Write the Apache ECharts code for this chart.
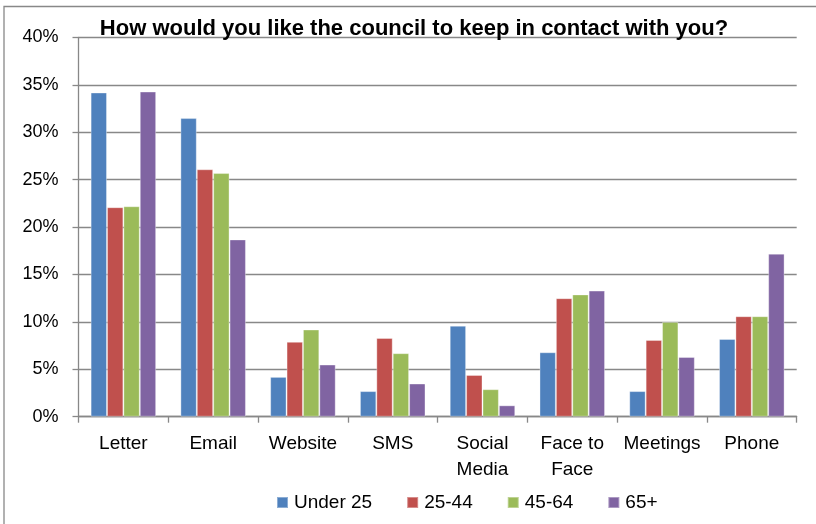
<!DOCTYPE html>
<html>
<head>
<meta charset="utf-8">
<style>
  html, body { margin: 0; padding: 0; background: #fff; }
  #chart { width: 816px; height: 524px; }
</style>
<script src="https://cdn.jsdelivr.net/npm/echarts@6/dist/echarts.min.js"></script>
</head>
<body>
<div id="chart"></div>
<script>
// Preferred contact channels by age group (percent of respondents)
const categories = ['Letter', 'Email', 'Website', 'SMS', 'Social\nMedia', 'Face to\nFace', 'Meetings', 'Phone'];
const seriesNames = ['Under 25', '25-44', '45-64', '65+'];
const under25 = [34.2, 31.5, 4.2, 2.7, 9.6, 6.8, 2.7, 8.2];
const age25to44 = [22.1, 26.1, 7.9, 8.3, 4.4, 12.5, 8.1, 10.6];
const age45to64 = [22.2, 25.7, 9.2, 6.7, 2.9, 12.9, 10.0, 10.6];
const age65plus = [34.3, 18.7, 5.5, 3.5, 1.2, 13.3, 6.3, 17.2];
const yTicks = { min: 0, max: 40, interval: 5 };

const colors = ['#4F81BD', '#C0504D', '#9BBB59', '#8064A2'];
const seriesData = [under25, age25to44, age45to64, age65plus];
const FONT = 'Liberation Sans';
const GRID_GRAY = '#888888';

const chart = echarts.init(document.getElementById('chart'), null, { renderer: 'canvas' });

chart.setOption({
  animation: false,
  backgroundColor: '#ffffff',
  color: colors,
  title: {
    text: 'How would you like the council to keep in contact with you?',
    left: 409,
    textAlign: 'center',
    top: 13,
    textStyle: { fontFamily: FONT, fontWeight: 'bold', fontSize: 22, color: '#000000' }
  },
  legend: {
    data: seriesNames,
    left: 276,
    top: 493,
    padding: 0,
    itemWidth: 11,
    itemHeight: 11,
    itemGap: 34,
    icon: 'rect',
    textStyle: { fontFamily: FONT, fontSize: 19, color: '#000000', padding: [0, 0, 0, 1] }
  },
  grid: { left: 78.5, right: 19.3, top: 37.5, bottom: 107.3, containLabel: false },
  xAxis: {
    type: 'category',
    data: categories,
    axisLine: { lineStyle: { color: GRID_GRAY, width: 1.3 } },
    axisTick: { show: true, length: 6, alignWithLabel: false, lineStyle: { color: GRID_GRAY, width: 1.3 } },
    axisLabel: {
      interval: 0,
      margin: 14,
      lineHeight: 26,
      fontFamily: FONT,
      fontSize: 19,
      color: '#000000'
    }
  },
  yAxis: {
    type: 'value',
    min: yTicks.min,
    max: yTicks.max,
    interval: yTicks.interval,
    axisLine: { show: true, lineStyle: { color: GRID_GRAY, width: 1.3 } },
    axisTick: { show: true, length: 6, lineStyle: { color: GRID_GRAY, width: 1.3 } },
    splitLine: { show: true, lineStyle: { color: GRID_GRAY, width: 1.3 } },
    axisLabel: {
      formatter: '{value}%',
      margin: 20,
      fontFamily: FONT,
      fontSize: 18,
      color: '#000000'
    }
  },
  series: seriesData.map((values, i) => ({
    name: seriesNames[i],
    type: 'bar',
    data: values,
    barGap: '0%',
    barCategoryGap: '27%',
    itemStyle: { borderColor: 'rgba(255,255,255,0.35)', borderWidth: 1 }
  })),
  graphic: [{
    type: 'rect',
    silent: true,
    shape: { x: 4, y: 6.5, width: 1000, height: 1000 },
    style: { fill: 'none', stroke: GRID_GRAY, lineWidth: 1.3 }
  }]
});
</script>
</body>
</html>
